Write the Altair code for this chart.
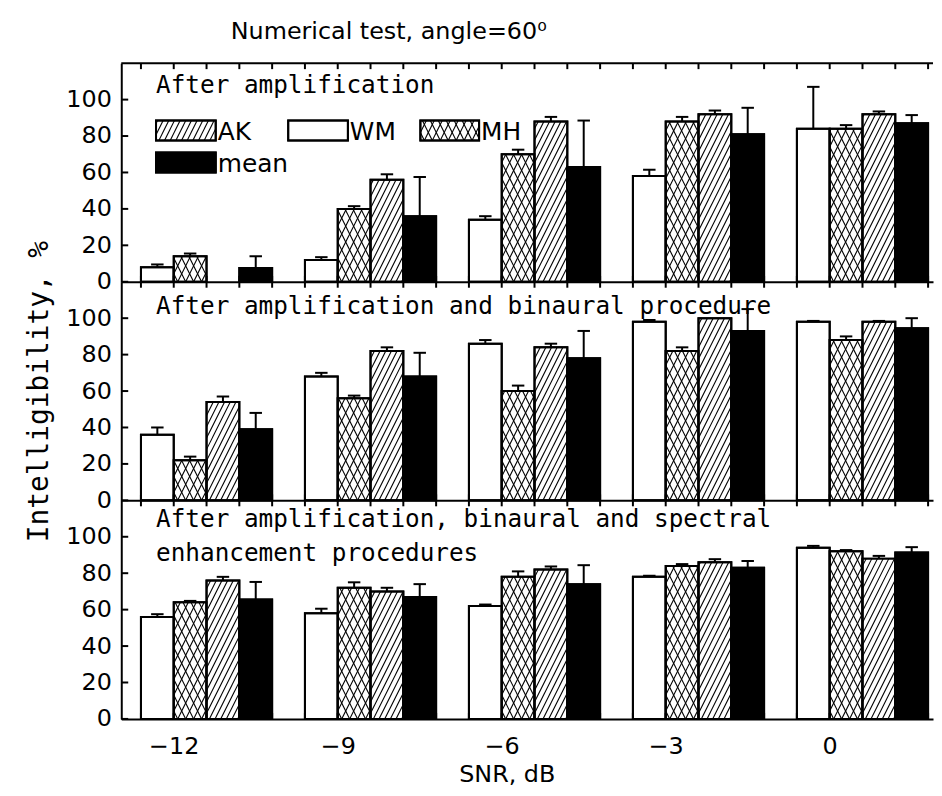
import altair as alt
import pandas as pd

F = "DejaVu Sans"
FM = "DejaVu Sans Mono"

# ---------------- data ----------------
snr_labels = ["−12", "−9", "−6", "−3", "0"]
series_names = ["WM", "MH", "AK", "mean"]
panel_titles = [
    "After amplification",
    "After amplification and binaural procedure",
    "After amplification, binaural and spectral\nenhancement procedures",
]
y_ticks = [0, 20, 40, 60, 80, 100]

# panel 1: after amplification
amp_WM = [8, 12, 34, 58, 84]
amp_WM_err = [1.5, 1.5, 2, 3.5, 23]
amp_MH = [14, 40, 70, 88, 84]
amp_MH_err = [1.5, 1.5, 2.5, 2.5, 2]
amp_AK = [0, 56, 88, 92, 92]
amp_AK_err = [0, 3, 2.5, 2, 1.5]
amp_mean = [7.5, 36, 63, 81, 87]
amp_mean_err = [6.5, 21.5, 25.5, 14.5, 4.5]

# panel 2: amplification + binaural
bin_WM = [36, 68, 86, 98, 98]
bin_WM_err = [4, 2, 2, 1, 0.5]
bin_MH = [22, 56, 60, 82, 88]
bin_MH_err = [2, 1.5, 3, 2, 2]
bin_AK = [54, 82, 84, 100, 98]
bin_AK_err = [3, 2, 2, 0, 0.5]
bin_mean = [39, 68, 78, 93, 94.5]
bin_mean_err = [9, 13, 15, 12, 5.5]

# panel 3: amplification + binaural + spectral
spe_WM = [56, 58, 62, 78, 94]
spe_WM_err = [1.5, 2.5, 0.8, 0.6, 1]
spe_MH = [64, 72, 78, 84, 92]
spe_MH_err = [0.8, 3, 3, 1, 0.7]
spe_AK = [76, 70, 82, 86, 88]
spe_AK_err = [2, 2, 1.7, 1.7, 1.5]
spe_mean = [65.5, 67, 74, 83, 91.3]
spe_mean_err = [9.7, 7, 10.4, 3.7, 3]

panels_vals = [
    [(amp_WM, amp_WM_err), (amp_MH, amp_MH_err), (amp_AK, amp_AK_err), (amp_mean, amp_mean_err)],
    [(bin_WM, bin_WM_err), (bin_MH, bin_MH_err), (bin_AK, bin_AK_err), (bin_mean, bin_mean_err)],
    [(spe_WM, spe_WM_err), (spe_MH, spe_MH_err), (spe_AK, spe_AK_err), (spe_mean, spe_mean_err)],
]

rows = []
for p, plist in enumerate(panels_vals):
    for k, (vals, errs) in enumerate(plist):
        for g, (v, e) in enumerate(zip(vals, errs)):
            rows.append(dict(panel=p, g=g, k=k, series=series_names[k], value=v, err=e))
df = pd.DataFrame(rows)

# legend (drawn inside panel 1, layout in panel-1 data units)
legend_items = ["AK", "WM", "MH", "mean"]
LEG_X0 = [0.46, 4.49, 8.52, 0.46]
LEG_X1 = [2.28, 6.31, 10.31, 2.28]
LEG_Y0 = [77.6, 77.6, 77.6, 60.0]
LEG_Y1 = [88.5, 88.5, 88.5, 70.9]
leg_df = pd.DataFrame(dict(series=legend_items, x0=LEG_X0, x1=LEG_X1, y0=LEG_Y0, y1=LEG_Y1))

# ---------------- geometry / style ----------------
W, H = 817, 220
XD = [-0.6, 24.15]
YD = [0, 120]
SLOT_PX = W / (XD[1] - XD[0])
Y_PX = H / (YD[1] - YD[0])
C = 0.5 * Y_PX / SLOT_PX          # hatch slope (x-slots per y-unit)
S_AK = 5.7 / SLOT_PX              # hatch spacing
S_MH = 8.0 / SLOT_PX


def XS():
    return alt.Scale(domain=XD, nice=False, zero=False)


def YS():
    return alt.Scale(domain=YD, nice=False, zero=False)


def hatch(chart, family, s, xa_, ya_):
    ch = chart.transform_calculate(h="sequence(-30, 40)").transform_flatten(["h"])
    ch = ch.transform_calculate(b=f"datum.x0 + (datum.h + 0.5) * {s}")
    if family == "/":
        ch = ch.transform_calculate(ya=f"max(datum.y0, datum.y0 + (datum.x0 - datum.b) / {C})")
        ch = ch.transform_calculate(yb=f"min(datum.y1, datum.y0 + (datum.x1 - datum.b) / {C})")
        ch = ch.transform_filter("datum.yb - datum.ya > 0.05")
        ch = ch.transform_calculate(xa=f"datum.b + {C} * (datum.ya - datum.y0)")
        ch = ch.transform_calculate(xb=f"datum.b + {C} * (datum.yb - datum.y0)")
    else:
        ch = ch.transform_calculate(ya=f"max(datum.y0, datum.y0 + (datum.b - datum.x1) / {C})")
        ch = ch.transform_calculate(yb=f"min(datum.y1, datum.y0 + (datum.b - datum.x0) / {C})")
        ch = ch.transform_filter("datum.yb - datum.ya > 0.05")
        ch = ch.transform_calculate(xa=f"datum.b - {C} * (datum.ya - datum.y0)")
        ch = ch.transform_calculate(xb=f"datum.b - {C} * (datum.yb - datum.y0)")
    return ch.mark_rule(color="black", strokeWidth=1.1).encode(
        x=alt.X("xa:Q", scale=XS(), axis=xa_),
        x2="xb:Q",
        y=alt.Y("ya:Q", scale=YS(), axis=ya_),
        y2="yb:Q",
    )


def rect_layers(src, xa_, ya_):
    fill = alt.condition("datum.series == 'mean'", alt.value("black"), alt.value("white"))
    rect = src.mark_rect(stroke="black", strokeWidth=2).encode(
        x=alt.X("x0:Q", scale=XS(), axis=xa_),
        x2="x1:Q",
        y=alt.Y("y1:Q", scale=YS(), axis=ya_),
        y2="y0:Q",
        fill=fill,
    )
    ak = hatch(src.transform_filter("datum.series == 'AK'"), "/", S_AK, xa_, ya_)
    mh1 = hatch(src.transform_filter("datum.series == 'MH'"), "/", S_MH, xa_, ya_)
    mh2 = hatch(src.transform_filter("datum.series == 'MH'"), "\\", S_MH, xa_, ya_)
    outline = src.mark_rect(stroke="black", strokeWidth=2, fillOpacity=0, fill="white").encode(
        x=alt.X("x0:Q", scale=XS(), axis=xa_),
        x2="x1:Q",
        y=alt.Y("y1:Q", scale=YS(), axis=ya_),
        y2="y0:Q",
    )
    return [rect, ak, mh1, mh2, outline]


label_expr = "[" + ",".join(f"'{s}'" for s in snr_labels) + "][round((datum.value - 1) / 5)]"


def panel(p):
    last = p == 2
    if last:
        xaxis = alt.Axis(values=[g * 5 + 1 for g in range(len(snr_labels))], labelExpr=label_expr,
                         ticks=False, tickSize=0, domain=True, domainWidth=2, domainColor="black",
                         labelFontSize=24, labelPadding=16, title="SNR, dB", titleFontSize=24,
                         titleFontWeight="normal", titlePadding=4, titleX=388, grid=False,
                         labelFlush=False)
    else:
        xaxis = alt.Axis(labels=False, ticks=False, tickSize=0, domain=True, domainWidth=2,
                         domainColor="black", title=None, grid=False)
    yaxis = alt.Axis(values=y_ticks, ticks=False, tickSize=0, domain=True, domainWidth=2,
                     domainColor="black", labelFontSize=24, labelPadding=10, grid=False,
                     title="Intelligibility, %" if p == 1 else None, titleFont=FM,
                     titleFontSize=28, titleFontWeight="normal", titlePadding=12)

    base = alt.Chart(df).transform_filter(f"datum.panel == {p}").transform_calculate(
        x0="datum.g * 5 + datum.k").transform_calculate(
        x1="datum.x0 + 1", y0="0", y1="datum.value", xc="datum.x0 + 0.5",
        top="datum.value + datum.err")

    bars = rect_layers(base.transform_filter("datum.value > 0"), xaxis, yaxis)

    errsrc = base.transform_filter("datum.err > 0").transform_calculate(
        cl="datum.xc - 0.19", cr="datum.xc + 0.19")
    err_v = errsrc.mark_rule(color="black", strokeWidth=2).encode(
        x=alt.X("xc:Q", scale=XS(), axis=xaxis),
        y=alt.Y("value:Q", scale=YS(), axis=yaxis),
        y2="top:Q",
    )
    err_c = errsrc.mark_rule(color="black", strokeWidth=2).encode(
        x=alt.X("cl:Q", scale=XS(), axis=xaxis),
        x2="cr:Q",
        y=alt.Y("top:Q", scale=YS(), axis=yaxis),
    )

    # inward ticks
    ticks_src = alt.Chart(alt.sequence(0, 25, as_="bnd"))
    xt_top = ticks_src.mark_rule(color="black", strokeWidth=2).encode(
        x=alt.X("bnd:Q", scale=XS(), axis=xaxis), y=alt.value(0), y2=alt.value(6))
    xt_bot = ticks_src.mark_rule(color="black", strokeWidth=2).encode(
        x=alt.X("bnd:Q", scale=XS(), axis=xaxis), y=alt.value(H), y2=alt.value(H - 6))
    yt = alt.Chart(pd.DataFrame({"t": y_ticks})).mark_rule(color="black", strokeWidth=2).encode(
        y=alt.Y("t:Q", scale=YS(), axis=yaxis), x=alt.value(0), x2=alt.value(7))

    title_df = pd.DataFrame({"t": [panel_titles[p]]})
    ty = [30, 32, 27][p]
    ptitle = alt.Chart(title_df).mark_text(
        align="left", baseline="alphabetic", font=FM, fontSize=24.5, lineBreak="\n",
        lineHeight=34, color="black").encode(text="t:N", x=alt.value(35), y=alt.value(ty))

    layers = bars + [err_v, err_c, xt_top, xt_bot, yt, ptitle]

    if p == 0:
        top_line = alt.Chart(title_df).mark_rule(color="black", strokeWidth=2).encode(
            x=alt.value(0), x2=alt.value(W), y=alt.value(0))
        lsrc = alt.Chart(leg_df)
        leg_rects = rect_layers(lsrc, xaxis, yaxis)
        leg_text = lsrc.transform_calculate(tx="datum.x1 + 0.06").mark_text(
            align="left", baseline="alphabetic", font=F, fontSize=25, color="black").encode(
            x=alt.X("tx:Q", scale=XS(), axis=xaxis),
            y=alt.Y("y0:Q", scale=YS(), axis=yaxis),
            text="series:N")
        layers += [top_line] + leg_rects + [leg_text]

    return alt.layer(*layers).properties(width=W, height=H)


chart = alt.vconcat(panel(0), panel(1), panel(2), spacing=0, bounds="flush").properties(
    title=alt.TitleParams("Numerical test, angle=60⁰", anchor="start", dx=206, fontSize=24,
                          font=F, fontWeight="normal", color="black", offset=18),
    padding={"left": 18, "top": 10, "right": 0, "bottom": 0},
).configure_view(stroke=None).configure_axis(
    labelFont=F, titleFont=F, labelColor="black", titleColor="black"
)

chart.save("out.html", embed_options={"renderer": "svg", "actions": False})
